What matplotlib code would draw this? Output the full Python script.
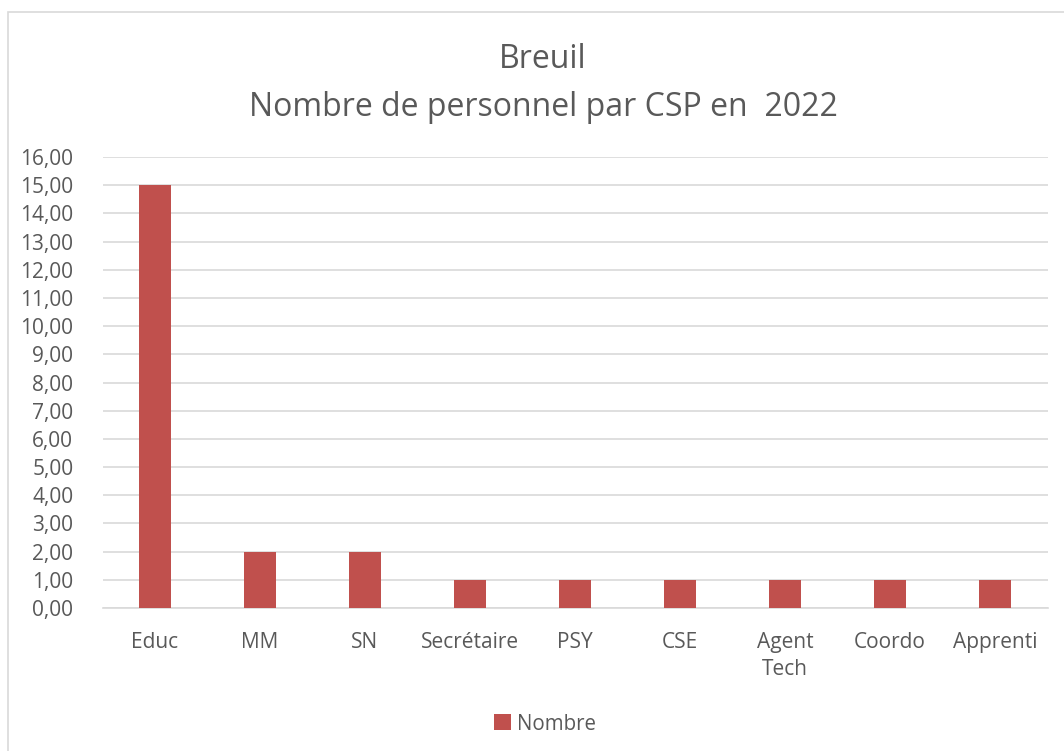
import matplotlib
matplotlib.use("Agg")
import matplotlib.pyplot as plt
from matplotlib.patches import Rectangle
from matplotlib.ticker import MultipleLocator, FuncFormatter

categories = ["Educ", "MM", "SN", "Secrétaire", "PSY", "CSE", "Agent\nTech", "Coordo", "Apprenti"]
values = [15, 2, 2, 1, 1, 1, 1, 1, 1]
series_name = "Nombre"
title = "Breuil\nNombre de personnel par CSP en  2022"

plt.rcParams['font.family'] = ['Open Sans', 'DejaVu Sans']
txt = '#595959'
grid = '#d9d9d9'
bar_color = '#c0504d'

fig = plt.figure(figsize=(10.64, 7.51), dpi=100)
fig.patches.append(Rectangle((8/1064, -0.05), 1.1, 1 - 12/751 + 0.05, transform=fig.transFigure,
                             fill=False, edgecolor='#d9d9d9', linewidth=1.2, zorder=0))
ax = fig.add_axes([102.5/1064, 143/751, 945/1064, 451/751])

x = list(range(len(categories)))
ax.bar(x, values, width=0.31, color=bar_color, label=series_name, zorder=3)
ax.set_xlim(-0.5, len(categories) - 0.5)
ax.set_ylim(0, 16)
ax.yaxis.set_major_locator(MultipleLocator(1))
ax.yaxis.set_major_formatter(FuncFormatter(lambda v, p: f"{v:.2f}".replace('.', ',')))
ax.grid(axis='y', color=grid, linewidth=1.2, zorder=0)
for s in ['top', 'right', 'left']:
    ax.spines[s].set_visible(False)
ax.spines['bottom'].set_color(grid)
ax.spines['bottom'].set_linewidth(1.2)
ax.set_xticks(x)
ax.set_xticklabels(categories, linespacing=1.42)
ax.tick_params(axis='x', length=0, pad=17, labelsize=15, colors=txt)
ax.tick_params(axis='y', length=0, pad=21, labelsize=15, colors=txt)

fig.text(543/1064, 1 - 83/751, title, ha='center', va='center', fontsize=23, color=txt, linespacing=1.6)

leg = fig.legend(loc='center', bbox_to_anchor=(545/1064, 1 - 724/751), frameon=False,
                 fontsize=14.8, handlelength=0.8, handleheight=0.8, handletextpad=0.3, labelcolor=txt)

fig.savefig("out.png", dpi=100)
